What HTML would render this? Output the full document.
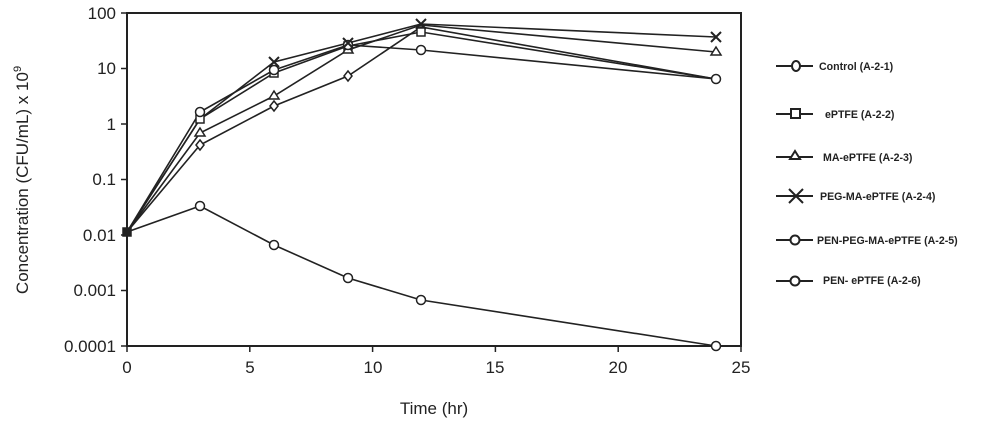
<!DOCTYPE html>
<html><head><meta charset="utf-8"><style>body{margin:0;background:#fff}svg{display:block;font-family:"Liberation Sans",Arial,sans-serif}</style></head><body>
<svg width="998" height="429" viewBox="0 0 998 429" xmlns="http://www.w3.org/2000/svg">
<rect x="127" y="13" width="614" height="333" fill="none" stroke="#222" stroke-width="2"/>
<g stroke="#222" stroke-width="1.5">
<line x1="121" y1="13" x2="127" y2="13"/><line x1="121" y1="68.5" x2="127" y2="68.5"/><line x1="121" y1="124" x2="127" y2="124"/><line x1="121" y1="179.5" x2="127" y2="179.5"/><line x1="121" y1="235" x2="127" y2="235"/><line x1="121" y1="290.5" x2="127" y2="290.5"/><line x1="121" y1="346" x2="127" y2="346"/>
<line x1="127" y1="346" x2="127" y2="352"/><line x1="249.8" y1="346" x2="249.8" y2="352"/><line x1="372.6" y1="346" x2="372.6" y2="352"/><line x1="495.4" y1="346" x2="495.4" y2="352"/><line x1="618.2" y1="346" x2="618.2" y2="352"/><line x1="741" y1="346" x2="741" y2="352"/>
</g>
<g font-size="17" fill="#222" text-anchor="end">
<text x="116" y="19">100</text><text x="116" y="74">10</text><text x="116" y="130">1</text><text x="116" y="185">0.1</text><text x="116" y="241">0.01</text><text x="116" y="296">0.001</text><text x="116" y="352">0.0001</text>
</g>
<g font-size="17" fill="#222" text-anchor="middle">
<text x="127" y="373">0</text><text x="250" y="373">5</text><text x="373" y="373">10</text><text x="495" y="373">15</text><text x="618" y="373">20</text><text x="741" y="373">25</text>
<text x="434" y="414">Time (hr)</text>
</g>
<text transform="translate(28,180) rotate(-90)" font-size="17" fill="#222" text-anchor="middle">Concentration (CFU/mL) x 10<tspan font-size="11" dy="-7">9</tspan></text>
<g fill="none" stroke="#222" stroke-width="1.6">
<polyline points="127,232 200,145 274,106 348,76 421,27 716,79"/>
<polyline points="127,232 200,119 274,73 348,46 421,32 716,79"/>
<polyline points="127,232 200,133 274,96 348,50 421,25 716,52"/>
<polyline points="127,232 200,119 274,62 348,43 421,24 716,37"/>
<polyline points="127,232 200,112 274,70 348,45 421,50 716,79"/>
<polyline points="127,232 200,206 274,245 348,278 421,300 716,346"/>
</g>
<g fill="#fff" stroke="#222" stroke-width="1.5">
<path d="M200,140 l4,5 -4,5 -4,-5z M274,101 l4,5 -4,5 -4,-5z M348,71 l4,5 -4,5 -4,-5z"/>
<rect x="196" y="115" width="8" height="8"/><rect x="270" y="69" width="8" height="8"/><rect x="344" y="42" width="8" height="8"/><rect x="417" y="28" width="8" height="8"/>
<path d="M200,128 l5,8 h-10z M274,91 l5,8 h-10z M348,45 l5,8 h-10z M716,47 l5,8 h-10z"/>
<circle cx="200" cy="112" r="4.5"/><circle cx="274" cy="70" r="4.5"/><circle cx="348" cy="45" r="4.5"/><circle cx="421" cy="50" r="4.5"/><circle cx="716" cy="79" r="4.5"/>
<circle cx="200" cy="206" r="4.5"/><circle cx="274" cy="245" r="4.5"/><circle cx="348" cy="278" r="4.5"/><circle cx="421" cy="300" r="4.5"/><circle cx="716" cy="346" r="4.5"/>
<rect x="123" y="228" width="8" height="8" fill="#222"/>
</g>
<g stroke="#222" stroke-width="2">
<path d="M269,57 l10,10 M279,57 l-10,10 M343,38 l10,10 M353,38 l-10,10 M416,19 l10,10 M426,19 l-10,10 M711,32 l10,10 M721,32 l-10,10"/>
</g>
<g stroke="#222" stroke-width="2" fill="#fff">
<line x1="776" y1="66" x2="813" y2="66"/><ellipse cx="796" cy="66" rx="4" ry="5"/>
<line x1="776" y1="114" x2="813" y2="114"/><rect x="791" y="109" width="9" height="9"/>
<line x1="776" y1="157" x2="813" y2="157"/><path d="M795,151 l5,8 h-10z"/>
<line x1="776" y1="196" x2="813" y2="196"/><path d="M789,189 l14,14 M803,189 l-14,14"/>
<line x1="776" y1="240" x2="813" y2="240"/><circle cx="795" cy="240" r="4.5"/>
<line x1="776" y1="281" x2="813" y2="281"/><circle cx="795" cy="281" r="4.5"/>
</g>
<g font-size="10.6" font-weight="bold" fill="#222">
<text x="819" y="70">Control (A-2-1)</text>
<text x="825" y="118">ePTFE (A-2-2)</text>
<text x="823" y="161">MA-ePTFE (A-2-3)</text>
<text x="820" y="200">PEG-MA-ePTFE (A-2-4)</text>
<text x="817" y="244">PEN-PEG-MA-ePTFE (A-2-5)</text>
<text x="823" y="284">PEN- ePTFE (A-2-6)</text>
</g>
</svg>
</body></html>
